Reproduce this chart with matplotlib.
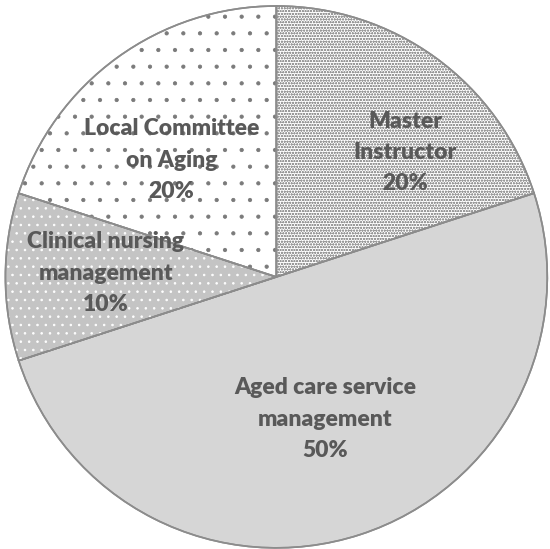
import numpy as np
import matplotlib.pyplot as plt
from matplotlib.patches import Wedge

# data
labels = ['Master\nInstructor', 'Aged care service\nmanagement',
          'Clinical nursing\nmanagement', 'Local Committee\non Aging']
shares = [20, 50, 10, 20]

# look of each slice: face, hatch, hatch colour
faces = ['#ffffff', '#d6d6d6', '#c4c4c4', '#ffffff']
hatches = ['oooooo', None, '..', '.']
hatch_cols = ['#9a9a9a', '#d6d6d6', '#ffffff', '#7a7a7a']
# label placement (radius as fraction of pie radius, angle in degrees)
lab_r = [0.66, 0.555, 0.63, 0.58]
lab_a = [44.0, -71.0, 178.7, 132.0]

plt.rcParams['hatch.linewidth'] = 0.6

fig = plt.figure(figsize=(5.5, 5.49), dpi=100)
ax = fig.add_axes([0.0, 0.0, 1.0, 1.0])

full = ['%s\n%d%%' % (l, s) for l, s in zip(labels, shares)]
wedges, texts = ax.pie(shares, startangle=90, counterclock=False,
                       labels=full, labeldistance=0.6,
                       colors=faces,
                       wedgeprops=dict(edgecolor='#8c8c8c', linewidth=1.2),
                       textprops=dict(fontsize=16.5, fontweight='heavy', color='#595959',
                                      family='Lato', ha='center', va='center',
                                      linespacing=1.6))

# hatch layers drawn on top of the faces, outline redrawn last
for w, h, hc in zip(wedges, hatches, hatch_cols):
    if h is None:
        continue
    ax.add_patch(Wedge(w.center, w.r, w.theta1, w.theta2, facecolor='none',
                       edgecolor=hc, linewidth=0, hatch=h, zorder=w.zorder + 0.1))
for w in wedges:
    ax.add_patch(Wedge(w.center, w.r, w.theta1, w.theta2, facecolor='none',
                       edgecolor='#8c8c8c', linewidth=1.2, zorder=w.zorder + 0.2))

for t, r, a in zip(texts, lab_r, lab_a):
    t.set_position((r*np.cos(np.radians(a)), r*np.sin(np.radians(a))))
    t.set_zorder(5)
    t.set_ha('center')
    t.set_multialignment('center')

ax.set_xlim(-1.02, 1.01)
ax.set_ylim(-1.004, 1.022)
ax.set_aspect('equal')
ax.axis('off')

fig.savefig('out.png', dpi=100)
